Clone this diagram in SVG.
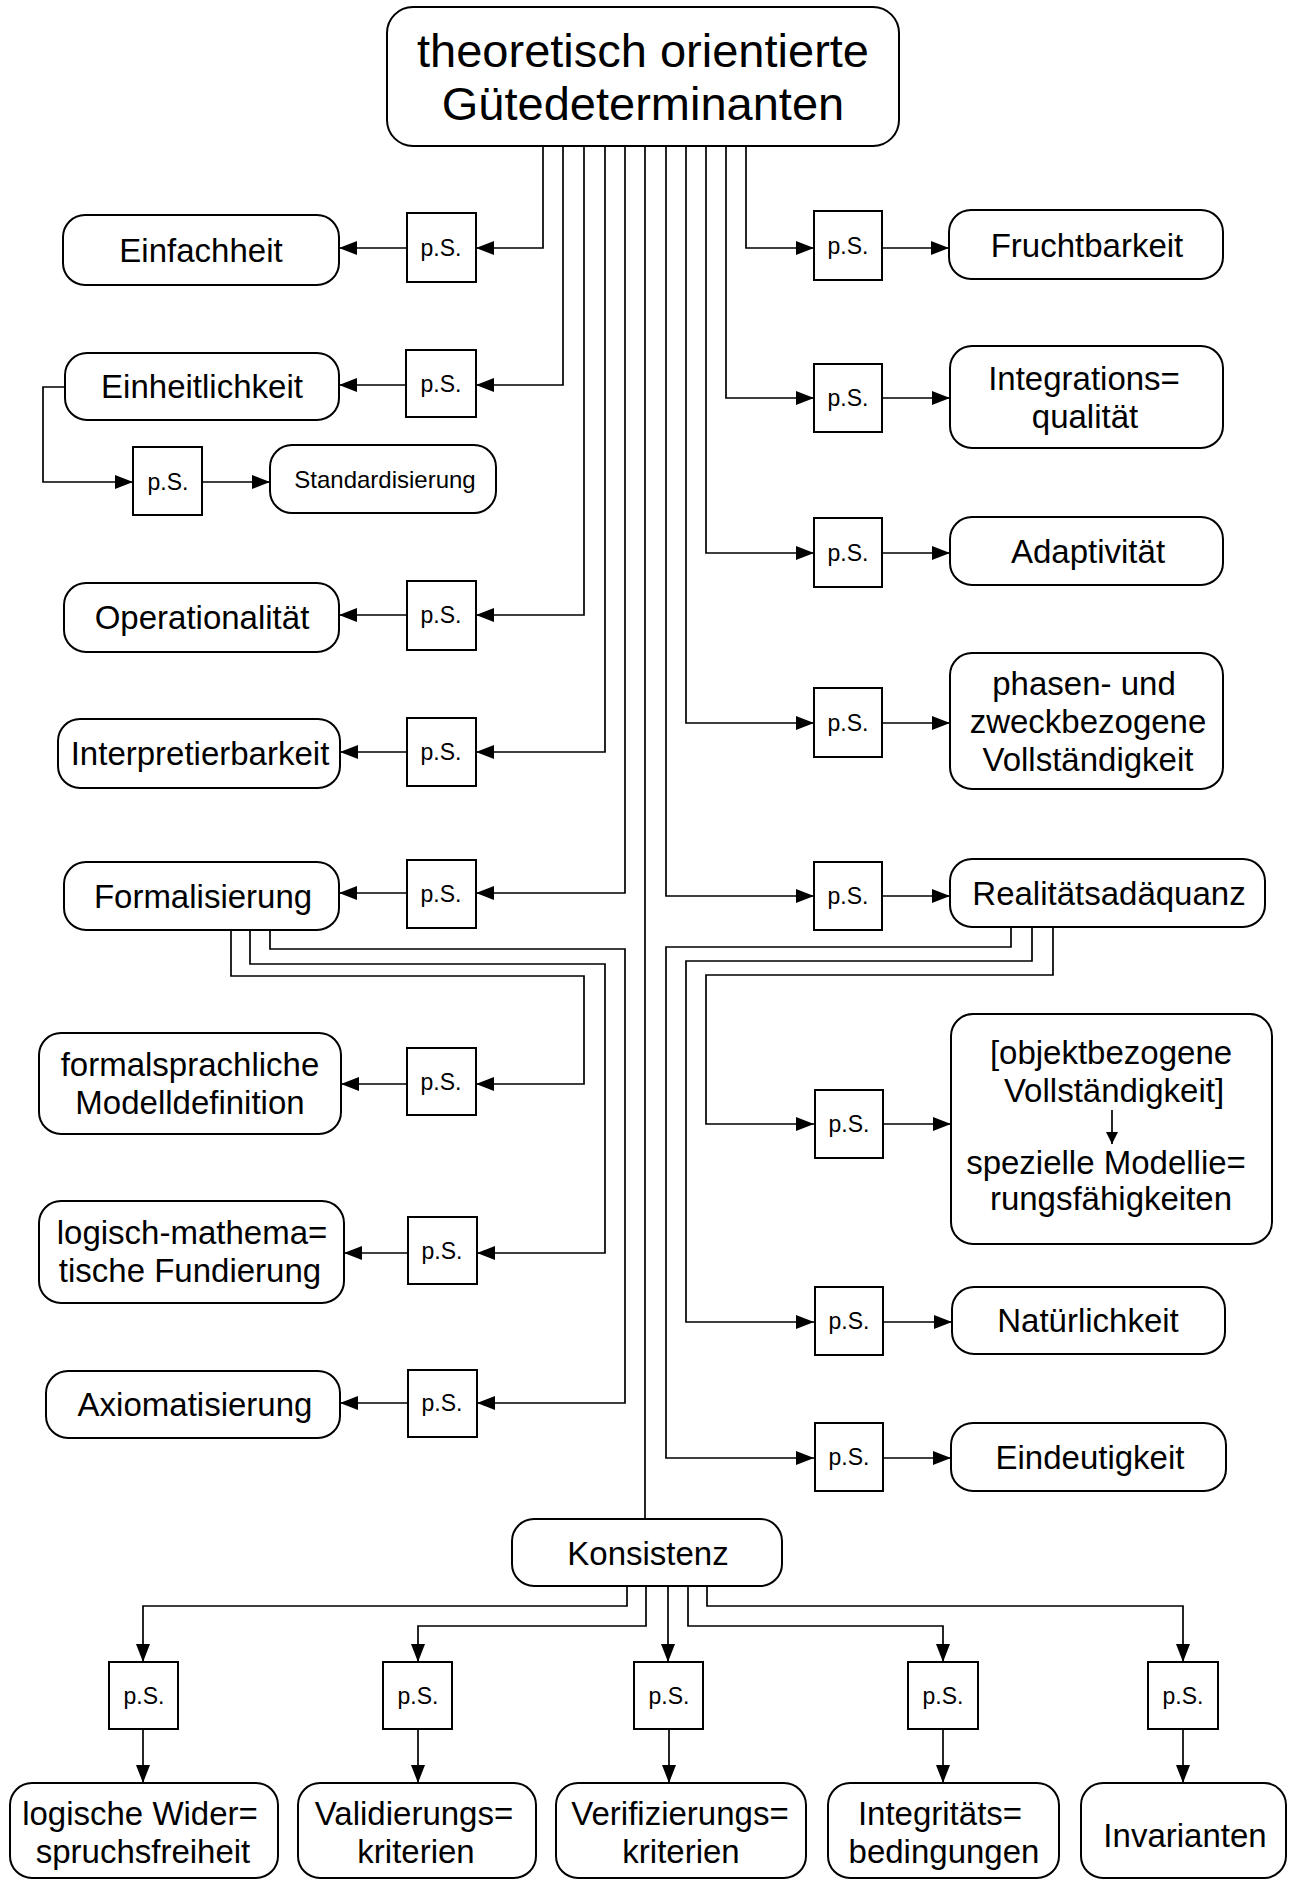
<svg xmlns="http://www.w3.org/2000/svg" width="1292" height="1881" viewBox="0 0 1292 1881">
<style>
.box{fill:#fff;stroke:#000;stroke-width:2}
.ps{fill:#fff;stroke:#000;stroke-width:2}
.t{font-family:"Liberation Sans",Arial,Helvetica,sans-serif;font-size:33px;text-anchor:middle;fill:#000}
.tt{font-size:47px}
.pt{font-family:"Liberation Sans",Arial,Helvetica,sans-serif;font-size:23px;text-anchor:middle;fill:#000}
.st{font-size:24px}
.c{fill:none;stroke:#000;stroke-width:1.7}
</style>
<defs>
<marker id="ah" markerWidth="18" markerHeight="14" refX="18" refY="7" orient="auto" markerUnits="userSpaceOnUse"><path d="M0,0 L18,7 L0,14 z" fill="#000"/></marker>
<marker id="ahs" markerWidth="12" markerHeight="12" refX="6" refY="12" orient="0" markerUnits="userSpaceOnUse"><path d="M0,0 L6,12 L12,0 z" fill="#000"/></marker>
</defs>
<rect width="1292" height="1881" fill="#fff"/>

<g id="connectors">
<path class="c" d="M543,146 V248 H476" marker-end="url(#ah)"/>
<path class="c" d="M407,248 H339" marker-end="url(#ah)"/>
<path class="c" d="M563,146 V385 H476" marker-end="url(#ah)"/>
<path class="c" d="M406,385 H339" marker-end="url(#ah)"/>
<path class="c" d="M65,387 H43 V482 H133" marker-end="url(#ah)"/>
<path class="c" d="M202,482 H270" marker-end="url(#ah)"/>
<path class="c" d="M584,146 V615 H476" marker-end="url(#ah)"/>
<path class="c" d="M407,615 H339" marker-end="url(#ah)"/>
<path class="c" d="M605,146 V752 H476" marker-end="url(#ah)"/>
<path class="c" d="M407,752 H340" marker-end="url(#ah)"/>
<path class="c" d="M625,146 V893 H476" marker-end="url(#ah)"/>
<path class="c" d="M407,893 H339" marker-end="url(#ah)"/>
<path class="c" d="M231,930 V976 H584 V1084 H476" marker-end="url(#ah)"/>
<path class="c" d="M407,1084 H341" marker-end="url(#ah)"/>
<path class="c" d="M250,930 V964 H605 V1253 H477" marker-end="url(#ah)"/>
<path class="c" d="M408,1253 H344" marker-end="url(#ah)"/>
<path class="c" d="M270,930 V949 H625 V1403 H477" marker-end="url(#ah)"/>
<path class="c" d="M408,1403 H340" marker-end="url(#ah)"/>
<path class="c" d="M746,146 V248 H814" marker-end="url(#ah)"/>
<path class="c" d="M882,248 H949" marker-end="url(#ah)"/>
<path class="c" d="M726,146 V398 H814" marker-end="url(#ah)"/>
<path class="c" d="M882,398 H950" marker-end="url(#ah)"/>
<path class="c" d="M706,146 V553 H814" marker-end="url(#ah)"/>
<path class="c" d="M882,553 H950" marker-end="url(#ah)"/>
<path class="c" d="M686,146 V723 H814" marker-end="url(#ah)"/>
<path class="c" d="M882,723 H950" marker-end="url(#ah)"/>
<path class="c" d="M666,146 V896 H814" marker-end="url(#ah)"/>
<path class="c" d="M882,896 H950" marker-end="url(#ah)"/>
<path class="c" d="M1011,927 V947 H666 V1458 H814" marker-end="url(#ah)"/>
<path class="c" d="M882,1458 H951" marker-end="url(#ah)"/>
<path class="c" d="M1032,927 V961 H686 V1322 H814" marker-end="url(#ah)"/>
<path class="c" d="M882,1322 H952" marker-end="url(#ah)"/>
<path class="c" d="M1053,927 V975 H706 V1124 H814" marker-end="url(#ah)"/>
<path class="c" d="M883,1124 H951" marker-end="url(#ah)"/>
<path class="c" d="M645,146 V1519"/>
<path class="c" d="M627,1586 V1606 H143 V1662" marker-end="url(#ah)"/>
<path class="c" d="M646,1586 V1626 H418 V1662" marker-end="url(#ah)"/>
<path class="c" d="M668,1586 V1662" marker-end="url(#ah)"/>
<path class="c" d="M688,1586 V1626 H943 V1662" marker-end="url(#ah)"/>
<path class="c" d="M707,1586 V1606 H1183 V1662" marker-end="url(#ah)"/>
<path class="c" d="M143,1729 V1783" marker-end="url(#ah)"/>
<path class="c" d="M418,1729 V1783" marker-end="url(#ah)"/>
<path class="c" d="M669,1729 V1783" marker-end="url(#ah)"/>
<path class="c" d="M943,1729 V1783" marker-end="url(#ah)"/>
<path class="c" d="M1183,1729 V1783" marker-end="url(#ah)"/>
</g>

<g id="root">
<rect class="box" x="387" y="7" width="512" height="139" rx="26"/>
<text class="t tt" x="643" y="67">theoretisch orientierte</text>
<text class="t tt" x="643" y="120">Gütedeterminanten</text>
</g>

<g id="einfachheit"><rect class="box" x="63" y="215" width="276" height="70" rx="22"/><text class="t" x="201" y="262">Einfachheit</text></g>
<g id="ps-einfachheit"><rect class="ps" x="407" y="213" width="69" height="69"/><text class="pt" x="441" y="256">p.S.</text></g>

<g id="einheitlichkeit"><rect class="box" x="65" y="353" width="274" height="67" rx="22"/><text class="t" x="202" y="398">Einheitlichkeit</text></g>
<g id="ps-einheitlichkeit"><rect class="ps" x="406" y="350" width="70" height="67"/><text class="pt" x="441" y="392">p.S.</text></g>

<g id="standardisierung"><rect class="box" x="270" y="445" width="226" height="68" rx="22"/><text class="pt st" x="385" y="488">Standardisierung</text></g>
<g id="ps-standardisierung"><rect class="ps" x="133" y="447" width="69" height="68"/><text class="pt" x="168" y="490">p.S.</text></g>

<g id="operationalitaet"><rect class="box" x="64" y="583" width="275" height="69" rx="22"/><text class="t" x="202" y="629">Operationalität</text></g>
<g id="ps-operationalitaet"><rect class="ps" x="407" y="581" width="69" height="69"/><text class="pt" x="441" y="623">p.S.</text></g>

<g id="interpretierbarkeit"><rect class="box" x="58" y="719" width="282" height="69" rx="22"/><text class="t" x="200" y="765">Interpretierbarkeit</text></g>
<g id="ps-interpretierbarkeit"><rect class="ps" x="407" y="718" width="69" height="68"/><text class="pt" x="441" y="760">p.S.</text></g>

<g id="formalisierung"><rect class="box" x="64" y="862" width="275" height="68" rx="22"/><text class="t" x="203" y="908">Formalisierung</text></g>
<g id="ps-formalisierung"><rect class="ps" x="407" y="860" width="69" height="68"/><text class="pt" x="441" y="902">p.S.</text></g>

<g id="formalsprachliche"><rect class="box" x="39" y="1033" width="302" height="101" rx="22"/><text class="t" x="190" y="1076">formalsprachliche</text><text class="t" x="190" y="1114">Modelldefinition</text></g>
<g id="ps-formalsprachliche"><rect class="ps" x="407" y="1048" width="69" height="67"/><text class="pt" x="441" y="1090">p.S.</text></g>

<g id="logisch-mathematisch"><rect class="box" x="39" y="1201" width="305" height="102" rx="22"/><text class="t" x="192" y="1244">logisch-mathema=</text><text class="t" x="190" y="1282">tische Fundierung</text></g>
<g id="ps-logisch"><rect class="ps" x="408" y="1217" width="69" height="67"/><text class="pt" x="442" y="1259">p.S.</text></g>

<g id="axiomatisierung"><rect class="box" x="46" y="1371" width="294" height="67" rx="22"/><text class="t" x="195" y="1416">Axiomatisierung</text></g>
<g id="ps-axiomatisierung"><rect class="ps" x="408" y="1370" width="69" height="67"/><text class="pt" x="442" y="1411">p.S.</text></g>

<g id="fruchtbarkeit"><rect class="box" x="949" y="210" width="274" height="69" rx="22"/><text class="t" x="1087" y="257">Fruchtbarkeit</text></g>
<g id="ps-fruchtbarkeit"><rect class="ps" x="814" y="211" width="68" height="69"/><text class="pt" x="848" y="254">p.S.</text></g>

<g id="integrationsqualitaet"><rect class="box" x="950" y="346" width="273" height="102" rx="22"/><text class="t" x="1084" y="390">Integrations=</text><text class="t" x="1085" y="428">qualität</text></g>
<g id="ps-integrationsqualitaet"><rect class="ps" x="814" y="364" width="68" height="68"/><text class="pt" x="848" y="406">p.S.</text></g>

<g id="adaptivitaet"><rect class="box" x="950" y="517" width="273" height="68" rx="22"/><text class="t" x="1088" y="563">Adaptivität</text></g>
<g id="ps-adaptivitaet"><rect class="ps" x="814" y="518" width="68" height="69"/><text class="pt" x="848" y="561">p.S.</text></g>

<g id="phasen-zweck"><rect class="box" x="950" y="653" width="273" height="136" rx="22"/><text class="t" x="1084" y="695">phasen- und</text><text class="t" x="1088" y="733">zweckbezogene</text><text class="t" x="1088" y="771">Vollständigkeit</text></g>
<g id="ps-phasen"><rect class="ps" x="814" y="688" width="68" height="69"/><text class="pt" x="848" y="731">p.S.</text></g>

<g id="realitaetsadaequanz"><rect class="box" x="950" y="859" width="315" height="68" rx="22"/><text class="t" x="1109" y="905">Realitätsadäquanz</text></g>
<g id="ps-realitaet"><rect class="ps" x="814" y="862" width="68" height="68"/><text class="pt" x="848" y="904">p.S.</text></g>

<g id="objektbezogene"><rect class="box" x="951" y="1014" width="321" height="230" rx="22"/><text class="t" x="1111" y="1064">[objektbezogene</text><text class="t" x="1114" y="1102">Vollständigkeit]</text><path class="c" d="M1112,1110 V1144" marker-end="url(#ahs)"/><text class="t" x="1106" y="1174">spezielle Modellie=</text><text class="t" x="1111" y="1210">rungsfähigkeiten</text></g>
<g id="ps-objekt"><rect class="ps" x="815" y="1090" width="68" height="68"/><text class="pt" x="849" y="1132">p.S.</text></g>

<g id="natuerlichkeit"><rect class="box" x="952" y="1287" width="273" height="67" rx="22"/><text class="t" x="1088" y="1332">Natürlichkeit</text></g>
<g id="ps-natuerlichkeit"><rect class="ps" x="815" y="1287" width="68" height="68"/><text class="pt" x="849" y="1329">p.S.</text></g>

<g id="eindeutigkeit"><rect class="box" x="951" y="1423" width="275" height="68" rx="22"/><text class="t" x="1090" y="1469">Eindeutigkeit</text></g>
<g id="ps-eindeutigkeit"><rect class="ps" x="815" y="1423" width="68" height="68"/><text class="pt" x="849" y="1465">p.S.</text></g>

<g id="konsistenz"><rect class="box" x="512" y="1519" width="270" height="67" rx="22"/><text class="t" x="648" y="1565">Konsistenz</text></g>

<g id="ps-k1"><rect class="ps" x="109" y="1662" width="69" height="67"/><text class="pt" x="144" y="1704">p.S.</text></g>
<g id="ps-k2"><rect class="ps" x="383" y="1662" width="69" height="67"/><text class="pt" x="418" y="1704">p.S.</text></g>
<g id="ps-k3"><rect class="ps" x="634" y="1662" width="69" height="67"/><text class="pt" x="669" y="1704">p.S.</text></g>
<g id="ps-k4"><rect class="ps" x="908" y="1662" width="70" height="67"/><text class="pt" x="943" y="1704">p.S.</text></g>
<g id="ps-k5"><rect class="ps" x="1148" y="1662" width="70" height="67"/><text class="pt" x="1183" y="1704">p.S.</text></g>

<g id="widerspruchsfreiheit"><rect class="box" x="10" y="1783" width="268" height="95" rx="22"/><text class="t" x="140" y="1825">logische Wider=</text><text class="t" x="143" y="1863">spruchsfreiheit</text></g>
<g id="validierungskriterien"><rect class="box" x="298" y="1783" width="238" height="95" rx="22"/><text class="t" x="414" y="1825">Validierungs=</text><text class="t" x="416" y="1863">kriterien</text></g>
<g id="verifizierungskriterien"><rect class="box" x="556" y="1783" width="250" height="95" rx="22"/><text class="t" x="680" y="1825">Verifizierungs=</text><text class="t" x="681" y="1863">kriterien</text></g>
<g id="integritaetsbedingungen"><rect class="box" x="828" y="1783" width="231" height="95" rx="22"/><text class="t" x="940" y="1825">Integritäts=</text><text class="t" x="944" y="1863">bedingungen</text></g>
<g id="invarianten"><rect class="box" x="1081" y="1783" width="205" height="95" rx="22"/><text class="t" x="1185" y="1847">Invarianten</text></g>
</svg>
